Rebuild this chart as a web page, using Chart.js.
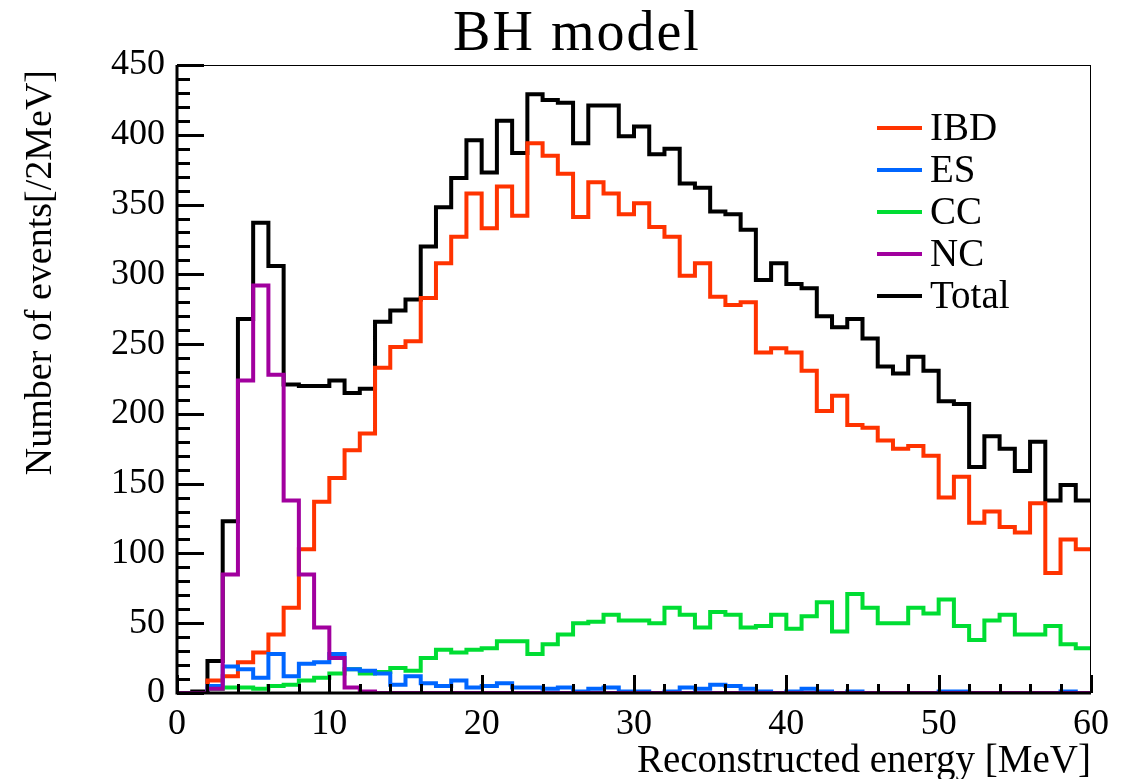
<!DOCTYPE html>
<html>
<head>
<meta charset="utf-8">
<title>BH model</title>
<script src="https://cdn.jsdelivr.net/npm/chart.js@4/dist/chart.umd.min.js"></script>
<style>
  html, body { margin: 0; padding: 0; background: #fff; }
  #wrap { width: 1137px; height: 779px; position: relative; }
</style>
</head>
<body>
<div id="wrap"><canvas id="bhChart" width="1137" height="779"></canvas></div>
<script>
// bin low edges (1 MeV bins), last entry is the upper edge of the final bin
const binEdges = [0, 1, 2, 3, 4, 5, 6, 7, 8, 9, 10, 11, 12, 13, 14, 15, 16, 17, 18, 19,
  20, 21, 22, 23, 24, 25, 26, 27, 28, 29, 30, 31, 32, 33, 34, 35, 36, 37, 38, 39,
  40, 41, 42, 43, 44, 45, 46, 47, 48, 49, 50, 51, 52, 53, 54, 55, 56, 57, 58, 59, 60];

const ibd = [0, 0, 9, 12, 22, 29, 42, 61, 103, 137, 154, 174, 186, 233, 248, 252, 283, 308, 327, 358,
  333, 363, 342, 394, 385, 372, 341, 366, 358, 343, 351, 334, 327, 299, 308, 284, 278, 280, 244, 247,
  244, 231, 202, 213, 192, 190, 181, 175, 177, 170, 140, 155, 122, 130, 119, 115, 136, 86, 110, 103];

const es = [0, 0, 5, 19, 17, 11, 28, 12, 21, 22, 28, 17, 16, 14, 6, 12, 7, 5, 9, 4,
  5, 7, 4, 4, 3, 4, 1, 3, 4, 1, 1, 0, 1, 4, 3, 6, 5, 3, 1, 0,
  1, 3, 1, 0, 1, 0, 0, 0, 0, 0, 1, 1, 0, 0, 0, 0, 0, 0, 1, 0];

const cc = [0, 0, 3, 4, 4, 3, 5, 6, 9, 11, 14, 17, 14, 15, 18, 16, 25, 31, 29, 31,
  32, 37, 37, 28, 35, 42, 50, 51, 56, 52, 52, 50, 61, 56, 47, 58, 56, 47, 48, 56,
  46, 55, 65, 44, 71, 61, 50, 50, 61, 57, 67, 48, 38, 52, 56, 42, 42, 48, 35, 32];

const nc = [0, 0, 3, 85, 224, 292, 228, 138, 85, 47, 25, 4, 1, 0, 0, 0, 0, 0, 0, 0,
  0, 0, 0, 0, 0, 0, 0, 0, 0, 0, 0, 0, 0, 0, 0, 0, 0, 0, 0, 0,
  0, 0, 0, 0, 0, 0, 0, 0, 0, 0, 0, 0, 0, 0, 0, 0, 0, 0, 0, 0];

const total = [0, 1, 23, 123, 268, 337, 306, 221, 220, 220, 224, 215, 218, 266, 274, 282, 320, 348, 369, 396,
  373, 410, 387, 429, 425, 423, 394, 421, 421, 399, 406, 386, 390, 365, 362, 345, 343, 332, 296, 308,
  293, 290, 270, 262, 268, 254, 234, 229, 241, 231, 209, 207, 162, 184, 175, 159, 180, 138, 149, 138];

const yMajorTicks = [0, 50, 100, 150, 200, 250, 300, 350, 400, 450];
const xMajorTicks = [0, 10, 20, 30, 40, 50, 60];

const SERIF = "'Liberation Serif', 'Times New Roman', serif";

function histPoints(values) {
  const pts = values.map((v, i) => ({ x: binEdges[i], y: v }));
  pts.push({ x: binEdges[values.length], y: values[values.length - 1] });
  return pts;
}

function histDataset(label, values, color, order) {
  return {
    label,
    data: histPoints(values),
    borderColor: color,
    backgroundColor: color,
    borderWidth: 4,
    stepped: "before",
    pointRadius: 0,
    fill: false,
    order
  };
}

const legendOrder = ["IBD", "ES", "CC", "NC", "Total"];

// frame, inside ticks, titles and legend drawn the ROOT way
const rootFrame = {
  id: "rootFrame",
  afterDatasetsDraw(chart) {
    const { ctx, chartArea: a, scales } = chart;
    const xs = scales.x;
    const ys = scales.y;
    ctx.save();
    ctx.strokeStyle = "#000";

    ctx.lineWidth = 1;
    ctx.beginPath();
    ctx.moveTo(a.left, a.top + 0.5);
    ctx.lineTo(a.right, a.top + 0.5);
    ctx.moveTo(a.right - 0.5, a.top);
    ctx.lineTo(a.right - 0.5, a.bottom);
    ctx.stroke();

    ctx.lineWidth = 3;
    ctx.beginPath();
    ctx.moveTo(a.left, a.top);
    ctx.lineTo(a.left, a.bottom);
    ctx.lineTo(a.right, a.bottom);
    ctx.stroke();

    // y ticks: major every 50, minor every 10
    ctx.lineWidth = 3;
    ctx.beginPath();
    for (let v = 0; v <= 450; v += 10) {
      const py = Math.round(ys.getPixelForValue(v)) + 0.5;
      const len = v % 50 === 0 ? 27 : 13;
      ctx.moveTo(a.left, py);
      ctx.lineTo(a.left + len, py);
    }
    ctx.stroke();

    // x ticks: major every 10, minor every 2
    ctx.lineWidth = 3;
    ctx.beginPath();
    for (let v = 0; v <= 60; v += 2) {
      const px = Math.round(xs.getPixelForValue(v)) + 0.5;
      const len = v % 10 === 0 ? 18 : 9;
      ctx.moveTo(px, a.bottom);
      ctx.lineTo(px, a.bottom - len);
    }
    ctx.stroke();

    ctx.fillStyle = "#000";
    // title
    ctx.font = `56px ${SERIF}`;
    ctx.textAlign = "center";
    ctx.textBaseline = "alphabetic";
    ctx.letterSpacing = "2px";
    ctx.fillText("BH model", 577, 50);
    ctx.letterSpacing = "0px";

    // axis titles
    ctx.font = `39px ${SERIF}`;
    ctx.textAlign = "right";
    ctx.fillText("Reconstructed energy [MeV]", a.right, 772);

    ctx.save();
    ctx.font = `38px ${SERIF}`;
    ctx.translate(51, a.top + 5);
    ctx.rotate(-Math.PI / 2);
    ctx.textAlign = "right";
    ctx.fillText("Number of events[/2MeV]", 0, 0);
    ctx.restore();

    // legend
    ctx.font = `39px ${SERIF}`;
    ctx.textAlign = "left";
    ctx.textBaseline = "middle";
    legendOrder.forEach((name, i) => {
      const ds = chart.data.datasets.find((d) => d.label === name);
      const ly = 128 + i * 42;
      ctx.strokeStyle = ds.borderColor;
      ctx.lineWidth = 4;
      ctx.beginPath();
      ctx.moveTo(877, ly);
      ctx.lineTo(922, ly);
      ctx.stroke();
      ctx.fillText(name, 930, ly + 2);
    });

    ctx.restore();
  }
};

const canvas = document.getElementById("bhChart");

new Chart(canvas, {
  type: "line",
  data: {
    datasets: [
      histDataset("Total", total, "#000000", 5),
      histDataset("IBD", ibd, "#ff3300", 4),
      histDataset("CC", cc, "#00dd33", 3),
      histDataset("ES", es, "#0066ff", 2),
      histDataset("NC", nc, "#a1009e", 1)
    ]
  },
  options: {
    responsive: false,
    animation: false,
    maintainAspectRatio: false,
    layout: {
      padding: { top: 65, right: 46, left: 0, bottom: 0 }
    },
    plugins: {
      legend: { display: false },
      tooltip: { enabled: false },
      title: { display: false }
    },
    scales: {
      x: {
        type: "linear",
        min: 0,
        max: 60,
        afterBuildTicks(scale) {
          scale.ticks = xMajorTicks.map((v) => ({ value: v }));
        },
        afterFit(scale) {
          scale.height = 779 - 693;
        },
        grid: { display: false, drawTicks: false },
        border: { display: false },
        ticks: {
          padding: 10,
          color: "#000",
          font: { family: SERIF, size: 36 },
          maxRotation: 0
        }
      },
      y: {
        type: "linear",
        min: 0,
        max: 450,
        afterBuildTicks(scale) {
          scale.ticks = yMajorTicks.map((v) => ({ value: v }));
        },
        afterFit(scale) {
          scale.width = 177;
        },
        grid: { display: false, drawTicks: false },
        border: { display: false },
        ticks: {
          padding: 12,
          color: "#000",
          font: { family: SERIF, size: 36 }
        }
      }
    }
  },
  plugins: [rootFrame]
});
</script>
</body>
</html>
